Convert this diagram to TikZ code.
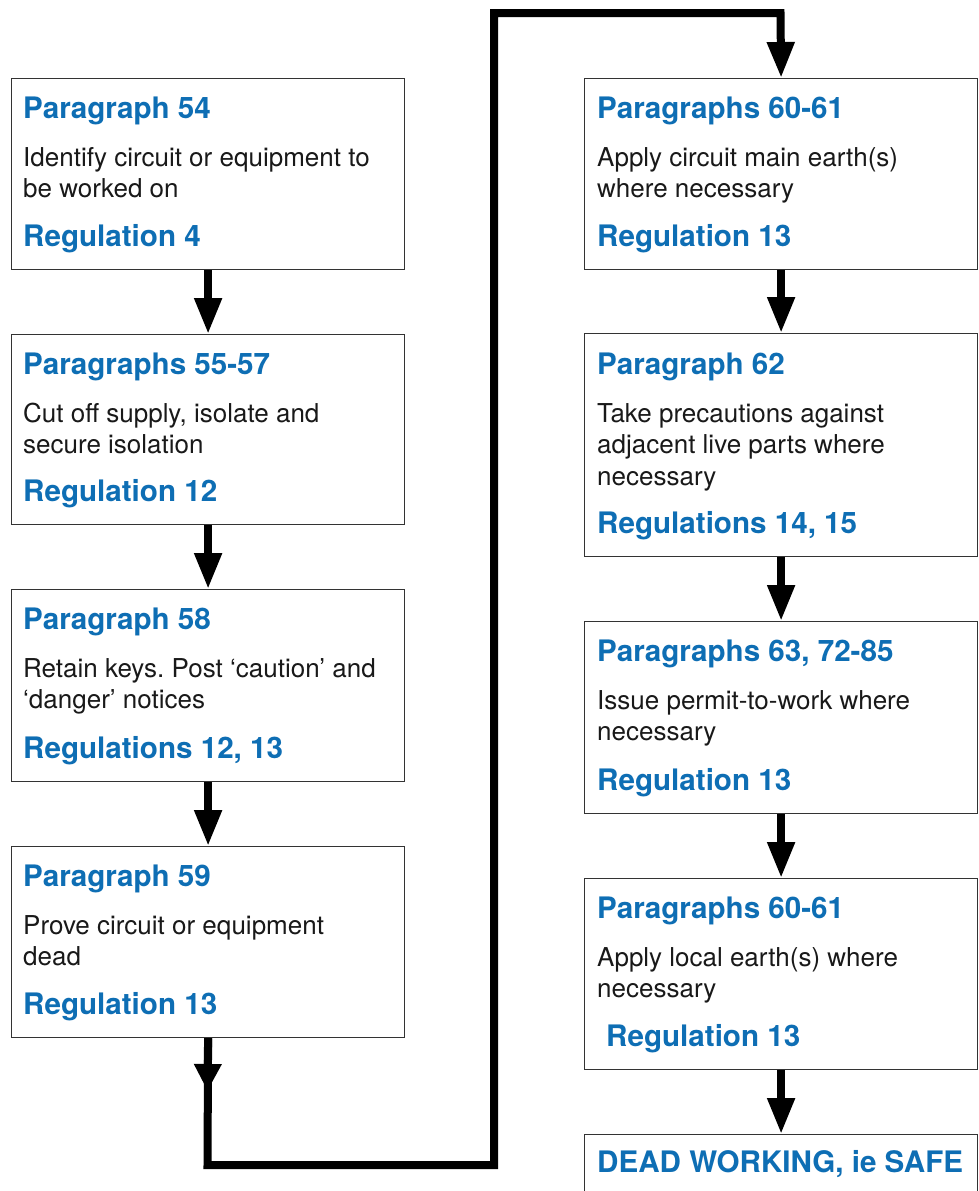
\documentclass[tikz,border=0pt]{standalone}
\usepackage{fontspec}
\setmainfont{TeX Gyre Heros}
\usetikzlibrary{arrows.meta}
\definecolor{hseblue}{RGB}{14,110,180}
\frenchspacing
\tikzset{
  stepbox/.style={draw=black!80, line width=1.2pt, fill=white, minimum width=393pt, anchor=north west, inner sep=0pt},
  head/.style={anchor=base west, inner sep=0pt, text=hseblue, font=\bfseries\fontsize{29.6}{34}\selectfont},
  body/.style={anchor=base west, inner sep=0pt, align=left, text=black!90, font=\fontsize{26}{31.5}\selectfont},
  flow/.style={line width=8pt, -{Triangle[width=26pt,length=36pt]}},
}

\begin{document}
\begin{tikzpicture}[x=1pt,y=-1pt]
\useasboundingbox (0,0) rectangle (979,1191);
% left column
\node[stepbox, minimum height=191pt] (p54) at (11,78) {};
\node[head] (p54h) at ([xshift=12pt,yshift=-40pt]p54.north west) {Paragraph 54};
\node[body] (p54b) at ([xshift=12pt,yshift=-119.5pt]p54.north west) {Identify circuit or equipment to\\be worked on};
\node[head] (p54r) at ([xshift=12pt,yshift=24pt]p54.south west) {Regulation 4};

\node[stepbox, minimum height=190pt] (p5557) at (11,334) {};
\node[head] (p5557h) at ([xshift=12pt,yshift=-40pt]p5557.north west) {Paragraphs 55-57};
\node[body] (p5557b) at ([xshift=12pt,yshift=-119.5pt]p5557.north west) {Cut off supply, isolate and\\secure isolation};
\node[head] (p5557r) at ([xshift=12pt,yshift=24pt]p5557.south west) {Regulation 12};

\node[stepbox, minimum height=192pt] (p58) at (11,589) {};
\node[head] (p58h) at ([xshift=12pt,yshift=-40pt]p58.north west) {Paragraph 58};
\node[body] (p58b) at ([xshift=12pt,yshift=-119.5pt]p58.north west) {Retain keys. Post ‘caution’ and\\‘danger’ notices};
\node[head] (p58r) at ([xshift=12pt,yshift=24pt]p58.south west) {Regulations 12, 13};

\node[stepbox, minimum height=191pt] (p59) at (11,846) {};
\node[head] (p59h) at ([xshift=12pt,yshift=-40pt]p59.north west) {Paragraph 59};
\node[body] (p59b) at ([xshift=12pt,yshift=-119.5pt]p59.north west) {Prove circuit or equipment\\dead};
\node[head] (p59r) at ([xshift=12pt,yshift=24pt]p59.south west) {Regulation 13};

% right column
\node[stepbox, minimum height=191pt] (p6061) at (584,78) {};
\node[head] (p6061h) at ([xshift=13pt,yshift=-40pt]p6061.north west) {Paragraphs 60-61};
\node[body] (p6061b) at ([xshift=13pt,yshift=-119.5pt]p6061.north west) {Apply circuit main earth(s)\\where necessary};
\node[head] (p6061r) at ([xshift=13pt,yshift=24pt]p6061.south west) {Regulation 13};

\node[stepbox, minimum height=223pt] (p62) at (584,333) {};
\node[head] (p62h) at ([xshift=13pt,yshift=-41pt]p62.north west) {Paragraph 62};
\node[body] (p62b) at ([xshift=13pt,yshift=-152pt]p62.north west) {Take precautions against\\adjacent live parts where\\necessary};
\node[head] (p62r) at ([xshift=13pt,yshift=24pt]p62.south west) {Regulations 14, 15};

\node[stepbox, minimum height=192pt] (p63) at (584,621) {};
\node[head] (p63h) at ([xshift=13pt,yshift=-40pt]p63.north west) {Paragraphs 63, 72-85};
\node[body] (p63b) at ([xshift=13pt,yshift=-119.5pt]p63.north west) {Issue permit-to-work where\\necessary};
\node[head] (p63r) at ([xshift=13pt,yshift=24pt]p63.south west) {Regulation 13};

\node[stepbox, minimum height=191pt] (local) at (584,878) {};
\node[head] (localh) at ([xshift=13pt,yshift=-40pt]local.north west) {Paragraphs 60-61};
\node[body] (localb) at ([xshift=13pt,yshift=-119.5pt]local.north west) {Apply local earth(s) where\\necessary};
\node[head] (localr) at ([xshift=22pt,yshift=24pt]local.south west) {Regulation 13};

\node[stepbox, minimum height=80pt] (safe) at (584,1134) {};
\node[head] (safeh) at ([xshift=13pt,yshift=-38pt]safe.north west) {DEAD WORKING, ie SAFE};

% connectors
\draw[flow] (p54.south) -- (p5557.north);
\draw[flow] (p5557.south) -- (p58.north);
\draw[flow] (p58.south) -- (p59.north);
\draw[flow] (p6061.south) -- (p62.north);
\draw[flow] (p62.south) -- (p63.north);
\draw[flow] (p63.south) -- (local.north);
\draw[flow] (local.south) -- (safe.north);

\coordinate (midtip) at (207.5,1091);
\coordinate (lowleft) at (207.5,1165);
\coordinate (lowright) at (494,1165);
\coordinate (topleft) at (494,13);
\coordinate (topright) at (780.5,13);
\draw[flow, -{Triangle[width=26pt,length=27pt]}] (p59.south) -- (midtip);
\draw[flow] (p59.south) -- (lowleft) -- (lowright) -- (topleft) -- (topright) -- (p6061.north);
\end{tikzpicture}
\end{document}
